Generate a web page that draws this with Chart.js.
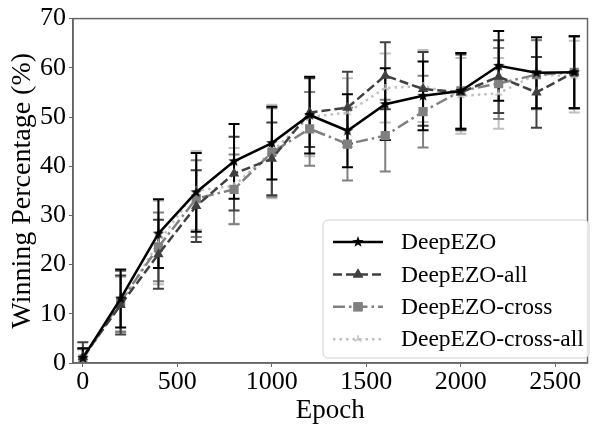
<!DOCTYPE html>
<html>
<head>
<meta charset="utf-8">
<script src="https://cdn.jsdelivr.net/npm/chart.js@4/dist/chart.umd.min.js"></script>
<style>
  html, body { margin: 0; padding: 0; background: #fff; }
  #wrap { width: 594px; height: 424px; }
</style>
</head>
<body>
<div id="wrap"><canvas id="chart" width="594" height="424"></canvas></div>
<script>
// values
const epochs = [0, 200, 400, 600, 800, 1000, 1200, 1400, 1600, 1800, 2000, 2200, 2400, 2600];
const xTicks = [0, 500, 1000, 1500, 2000, 2500];
const yTicks = [0, 10, 20, 30, 40, 50, 60, 70];

const deepEZO        = [1.0, 13.1, 26.3, 34.7, 41.0, 44.7, 50.4, 47.2, 52.6, 54.3, 55.3, 60.4, 59.0, 59.1];
const deepEZOErr     = [2.0, 5.9, 7.0, 8.0, 7.6, 7.4, 7.8, 7.4, 7.3, 7.0, 7.7, 7.1, 7.2, 7.3];
const deepEZOAll     = [1.2, 11.8, 22.1, 31.9, 38.5, 41.5, 50.9, 51.9, 58.4, 55.7, 55.0, 58.2, 55.0, 59.1];
const deepEZOAllErr  = [3.0, 6.0, 7.0, 7.3, 7.5, 7.4, 7.0, 7.3, 6.8, 7.5, 7.7, 7.4, 7.2, 7.3];
const deepEZOCross    = [0.8, 12.5, 23.6, 33.4, 35.3, 42.8, 47.6, 44.5, 46.2, 51.1, 55.3, 56.8, 58.6, 59.1];
const deepEZOCrossErr = [2.0, 6.2, 7.0, 7.8, 7.1, 9.0, 7.5, 7.4, 7.3, 7.3, 7.7, 7.2, 7.0, 7.3];
const deepEZOCrossAll    = [1.0, 12.0, 24.5, 35.1, 36.0, 43.0, 50.0, 50.9, 55.9, 56.3, 54.3, 54.8, 58.7, 58.2];
const deepEZOCrossAllErr = [2.0, 5.5, 8.5, 8.0, 7.7, 9.5, 8.0, 7.0, 7.0, 7.3, 7.7, 7.2, 7.0, 7.3];

const FONT = '"Liberation Serif", "Times New Roman", serif';

// small marker images (matplotlib style)
function makeStar(color, r) {
    const c = document.createElement('canvas');
    c.width = c.height = r * 2 + 2;
    const ctx = c.getContext('2d');
    ctx.translate(r + 1, r + 1);
    ctx.beginPath();
    for (let i = 0; i < 10; i++) {
        const rad = (i % 2 === 0) ? r : r * 0.4;
        const a = -Math.PI / 2 + i * Math.PI / 5;
        ctx.lineTo(rad * Math.cos(a), rad * Math.sin(a));
    }
    ctx.closePath();
    ctx.fillStyle = color;
    ctx.fill();
    return c;
}

function makeTri(color, r) {
    const c = document.createElement('canvas');
    c.width = c.height = r * 2 + 2;
    const ctx = c.getContext('2d');
    ctx.translate(r + 1, r + 1);
    ctx.strokeStyle = color;
    ctx.lineWidth = 1.5;
    ctx.beginPath();
    for (let i = 0; i < 3; i++) {
        const a = -Math.PI / 2 + i * 2 * Math.PI / 3;
        ctx.moveTo(0, 0);
        ctx.lineTo(r * Math.cos(a), r * Math.sin(a));
    }
    ctx.stroke();
    return c;
}

const series = [
    { label: 'DeepEZO', data: deepEZO, err: deepEZOErr, color: '#000000', dash: [], style: makeStar('#000000', 6), radius: 6 },
    { label: 'DeepEZO-all', data: deepEZOAll, err: deepEZOAllErr, color: '#404040', dash: [9, 4], style: 'triangle', radius: 6 },
    { label: 'DeepEZO-cross', data: deepEZOCross, err: deepEZOCrossErr, color: '#808080', dash: [12, 4, 2.5, 4], style: 'rect', radius: 6.5 },
    { label: 'DeepEZO-cross-all', data: deepEZOCrossAll, err: deepEZOCrossAllErr, color: '#c0c0c0', dash: [2.5, 4], style: makeTri('#c0c0c0', 4), radius: 4 }
];

const errorBars = {
    id: 'errorBars',
    beforeDatasetsDraw(chart) {
        const { ctx, scales: { x, y } } = chart;
        ctx.save();
        ctx.setLineDash([]);
        ctx.lineWidth = 2;
        for (let s = series.length - 1; s >= 0; s--) {
            const sr = series[s];
            ctx.strokeStyle = sr.color;
            epochs.forEach((e, i) => {
                const px = x.getPixelForValue(e);
                const top = y.getPixelForValue(sr.data[i] + sr.err[i]);
                const bot = y.getPixelForValue(Math.max(0, sr.data[i] - sr.err[i]));
                ctx.beginPath();
                ctx.moveTo(px, top); ctx.lineTo(px, bot);
                ctx.moveTo(px - 5.5, top); ctx.lineTo(px + 5.5, top);
                if (sr.data[i] - sr.err[i] > 0) {
                    ctx.moveTo(px - 5.5, bot); ctx.lineTo(px + 5.5, bot);
                }
                ctx.stroke();
            });
        }
        ctx.restore();
    }
};

const frame = {
    id: 'frame',
    afterDraw(chart) {
        const { ctx, chartArea: a } = chart;
        ctx.save();
        ctx.strokeStyle = '#666';
        ctx.lineWidth = 1.5;
        ctx.strokeRect(a.left, a.top, a.right - a.left, a.bottom - a.top);
        ctx.restore();
    }
};

const legendBox = {
    id: 'legendBox',
    afterDraw(chart) {
        const ctx = chart.ctx;
        const bx = 323, by = 220, bw = 266, bh = 138;
        ctx.save();
        ctx.beginPath();
        ctx.roundRect(bx, by, bw, bh, 5);
        ctx.fillStyle = 'rgba(255,255,255,0.85)';
        ctx.fill();
        ctx.strokeStyle = '#d0d0d0';
        ctx.lineWidth = 1;
        ctx.stroke();
        series.forEach((sr, i) => {
            const cy = 242 + i * 32.4;
            ctx.strokeStyle = sr.color;
            ctx.lineWidth = 2.5;
            ctx.setLineDash(sr.dash);
            ctx.beginPath();
            ctx.moveTo(333, cy); ctx.lineTo(383, cy);
            ctx.stroke();
            ctx.setLineDash([]);
            if (typeof sr.style !== 'string') {
                ctx.drawImage(sr.style, 358 - sr.style.width / 2, cy - sr.style.height / 2);
            } else {
                ctx.fillStyle = sr.color;
                Chart.helpers.drawPoint(ctx, { pointStyle: sr.style, radius: sr.radius, borderWidth: 0 }, 358, cy);
                ctx.fill();
            }
            ctx.fillStyle = '#000';
            ctx.font = '23.5px ' + FONT;
            ctx.textBaseline = 'middle';
            ctx.fillText(sr.label, 401, cy + 1);
        });
        ctx.restore();
    }
};

new Chart(document.getElementById('chart'), {
    type: 'line',
    data: {
        datasets: series.map(sr => ({
            label: sr.label,
            data: epochs.map((e, i) => ({ x: e, y: sr.data[i] })),
            borderColor: sr.color,
            backgroundColor: sr.color,
            borderWidth: 2.5,
            borderDash: sr.dash,
            pointStyle: sr.style,
            pointRadius: sr.radius,
            pointBorderWidth: 0,
            pointHoverRadius: sr.radius,
            tension: 0,
            fill: false
        }))
    },
    options: {
        responsive: false,
        animation: false,
        events: [],
        layout: { padding: { top: 17, right: 4, left: 6, bottom: 0 } },
        plugins: { legend: { display: false }, tooltip: { enabled: false } },
        scales: {
            x: {
                type: 'linear',
                min: -52,
                max: 2670,
                afterBuildTicks: scale => { scale.ticks = xTicks.map(v => ({ value: v })); },
                afterFit: scale => { scale.height = 61; },
                grid: { drawOnChartArea: false, drawTicks: true, tickLength: 4, color: '#666' },
                border: { display: true, color: '#666', width: 1.5 },
                ticks: { color: '#000', font: { family: FONT, size: 26 }, padding: 0, maxRotation: 0, callback: v => String(v) },
                title: { display: true, text: 'Epoch', color: '#000', font: { family: FONT, size: 27 }, padding: { top: 0, bottom: -3 } }
            },
            y: {
                min: 0,
                max: 70,
                afterBuildTicks: scale => { scale.ticks = yTicks.map(v => ({ value: v })); },
                afterFit: scale => { scale.width = 67; },
                grid: { drawOnChartArea: false, drawTicks: true, tickLength: 4, color: '#666' },
                border: { display: true, color: '#666', width: 1.5 },
                ticks: { color: '#000', font: { family: FONT, size: 26 }, padding: 3 },
                title: { display: true, text: 'Winning Percentage (%)', color: '#000', font: { family: FONT, size: 28 }, padding: 0 }
            }
        }
    },
    plugins: [errorBars, frame, legendBox]
});
</script>
</body>
</html>
